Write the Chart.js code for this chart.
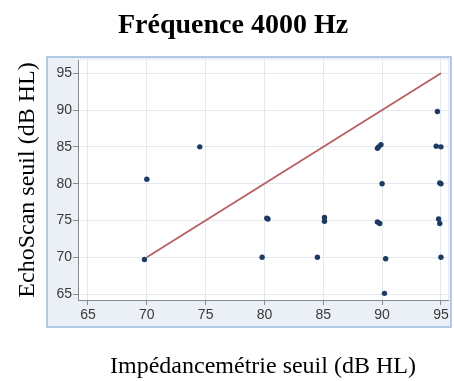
<!DOCTYPE html>
<html>
<head>
<meta charset="utf-8">
<script src="https://cdn.jsdelivr.net/npm/chart.js@4/dist/chart.umd.min.js"></script>
<style>
  html, body { margin: 0; padding: 0; background: #ffffff; }
  #wrap { width: 454px; height: 381px; }
</style>
</head>
<body>
<div id="wrap"><canvas id="c" width="454" height="381"></canvas></div>
<script>
// Hearing thresholds at 4000 Hz: impedance audiometry (x) vs EchoScan (y), dB HL
const impedanceThresholds = [70.0, 69.8, 74.5, 79.8, 80.2, 80.3, 84.5, 85.1, 85.1, 89.6, 89.7, 89.9, 89.6, 89.8, 90.0, 90.3, 90.2, 94.7, 94.6, 95.0, 94.9, 95.0, 94.8, 94.9, 95.0];
const echoScanThresholds  = [80.6, 69.7, 85.0, 70.0, 75.3, 75.2, 70.0, 75.4, 74.9, 84.8, 85.0, 85.3, 74.8, 74.6, 80.0, 69.8, 65.1, 89.8, 85.1, 85.0, 80.1, 80.0, 75.2, 74.6, 70.0];

// Line of agreement (y = x)
const identityX = [70, 95];
const identityY = [70, 95];

const xTickValues = [65, 70, 75, 80, 85, 90, 95];
const yTickValues = [65, 70, 75, 80, 85, 90, 95];

const scatterPoints = impedanceThresholds.map((x, i) => ({ x: x, y: echoScanThresholds[i] }));
const identityPoints = identityX.map((x, i) => ({ x: x, y: identityY[i] }));

// Light framed panel behind the plot, white plotting area
const panelPlugin = {
  id: 'panel',
  beforeDraw(chart) {
    const { ctx, chartArea: a } = chart;
    ctx.save();
    ctx.fillStyle = '#eaf0f6';
    ctx.fillRect(a.left - 31, a.top - 3, a.right - a.left + 34, a.bottom - a.top + 30);
    ctx.strokeStyle = '#9fbadb';
    ctx.lineWidth = 1.5;
    ctx.strokeRect(a.left - 31, a.top - 3, a.right - a.left + 34, a.bottom - a.top + 30);
    ctx.fillStyle = '#ffffff';
    ctx.fillRect(a.left, a.top, a.right - a.left, a.bottom - a.top);
    ctx.restore();
  }
};

const tickFont = { family: "'Liberation Sans', Arial, sans-serif", size: 14 };
const serif = "'Liberation Serif', 'Times New Roman', serif";

new Chart(document.getElementById('c'), {
  type: 'scatter',
  data: {
    datasets: [
      {
        type: 'scatter',
        data: scatterPoints,
        pointRadius: 2.7,
        pointHoverRadius: 2.7,
        pointBackgroundColor: '#1d3b62',
        pointBorderWidth: 0,
        order: 1
      },
      {
        type: 'line',
        data: identityPoints,
        borderColor: '#b55a5e',
        borderWidth: 1.6,
        pointRadius: 0,
        fill: false,
        order: 2
      }
    ]
  },
  options: {
    responsive: false,
    animation: false,
    devicePixelRatio: 1,
    layout: { padding: { left: 18, right: 6, top: 0, bottom: 0 } },
    plugins: {
      legend: { display: false },
      tooltip: { enabled: false },
      title: {
        display: true,
        text: 'Fréquence 4000 Hz',
        color: '#000000',
        font: { family: serif, size: 28, weight: 'bold', lineHeight: 1.2 },
        padding: { top: 9, bottom: 17.4 }
      }
    },
    scales: {
      x: {
        type: 'linear',
        min: 64.15,
        max: 95.6,
        afterBuildTicks: s => { s.ticks = xTickValues.map(v => ({ value: v })); },
        afterFit: s => { s.height = 81; },
        ticks: { font: tickFont, color: '#3a3a3a', padding: 2, maxRotation: 0 },
        grid: { color: '#e4e9ef', tickColor: '#8a8a8a', tickLength: 5, lineWidth: 1 },
        border: { color: '#8a8a8a', width: 1 },
        title: {
          display: true,
          text: 'Impédancemétrie seuil (dB HL)',
          color: '#000000',
          font: { family: serif, size: 24, lineHeight: 1.2 },
          padding: { top: 0, bottom: 0 }
        }
      },
      y: {
        type: 'linear',
        min: 64.2,
        max: 96.8,
        afterBuildTicks: s => { s.ticks = yTickValues.map(v => ({ value: v })); },
        afterFit: s => { s.width = 60; },
        ticks: { font: tickFont, color: '#3a3a3a', padding: 1 },
        grid: { color: '#e4e9ef', tickColor: '#8a8a8a', tickLength: 5, lineWidth: 1 },
        border: { color: '#8a8a8a', width: 1 },
        title: {
          display: true,
          text: 'EchoScan seuil (dB HL)',
          color: '#000000',
          font: { family: serif, size: 24, lineHeight: 0.8 },
          padding: { top: 0, bottom: 0 }
        }
      }
    }
  },
  plugins: [panelPlugin]
});
</script>
</body>
</html>
